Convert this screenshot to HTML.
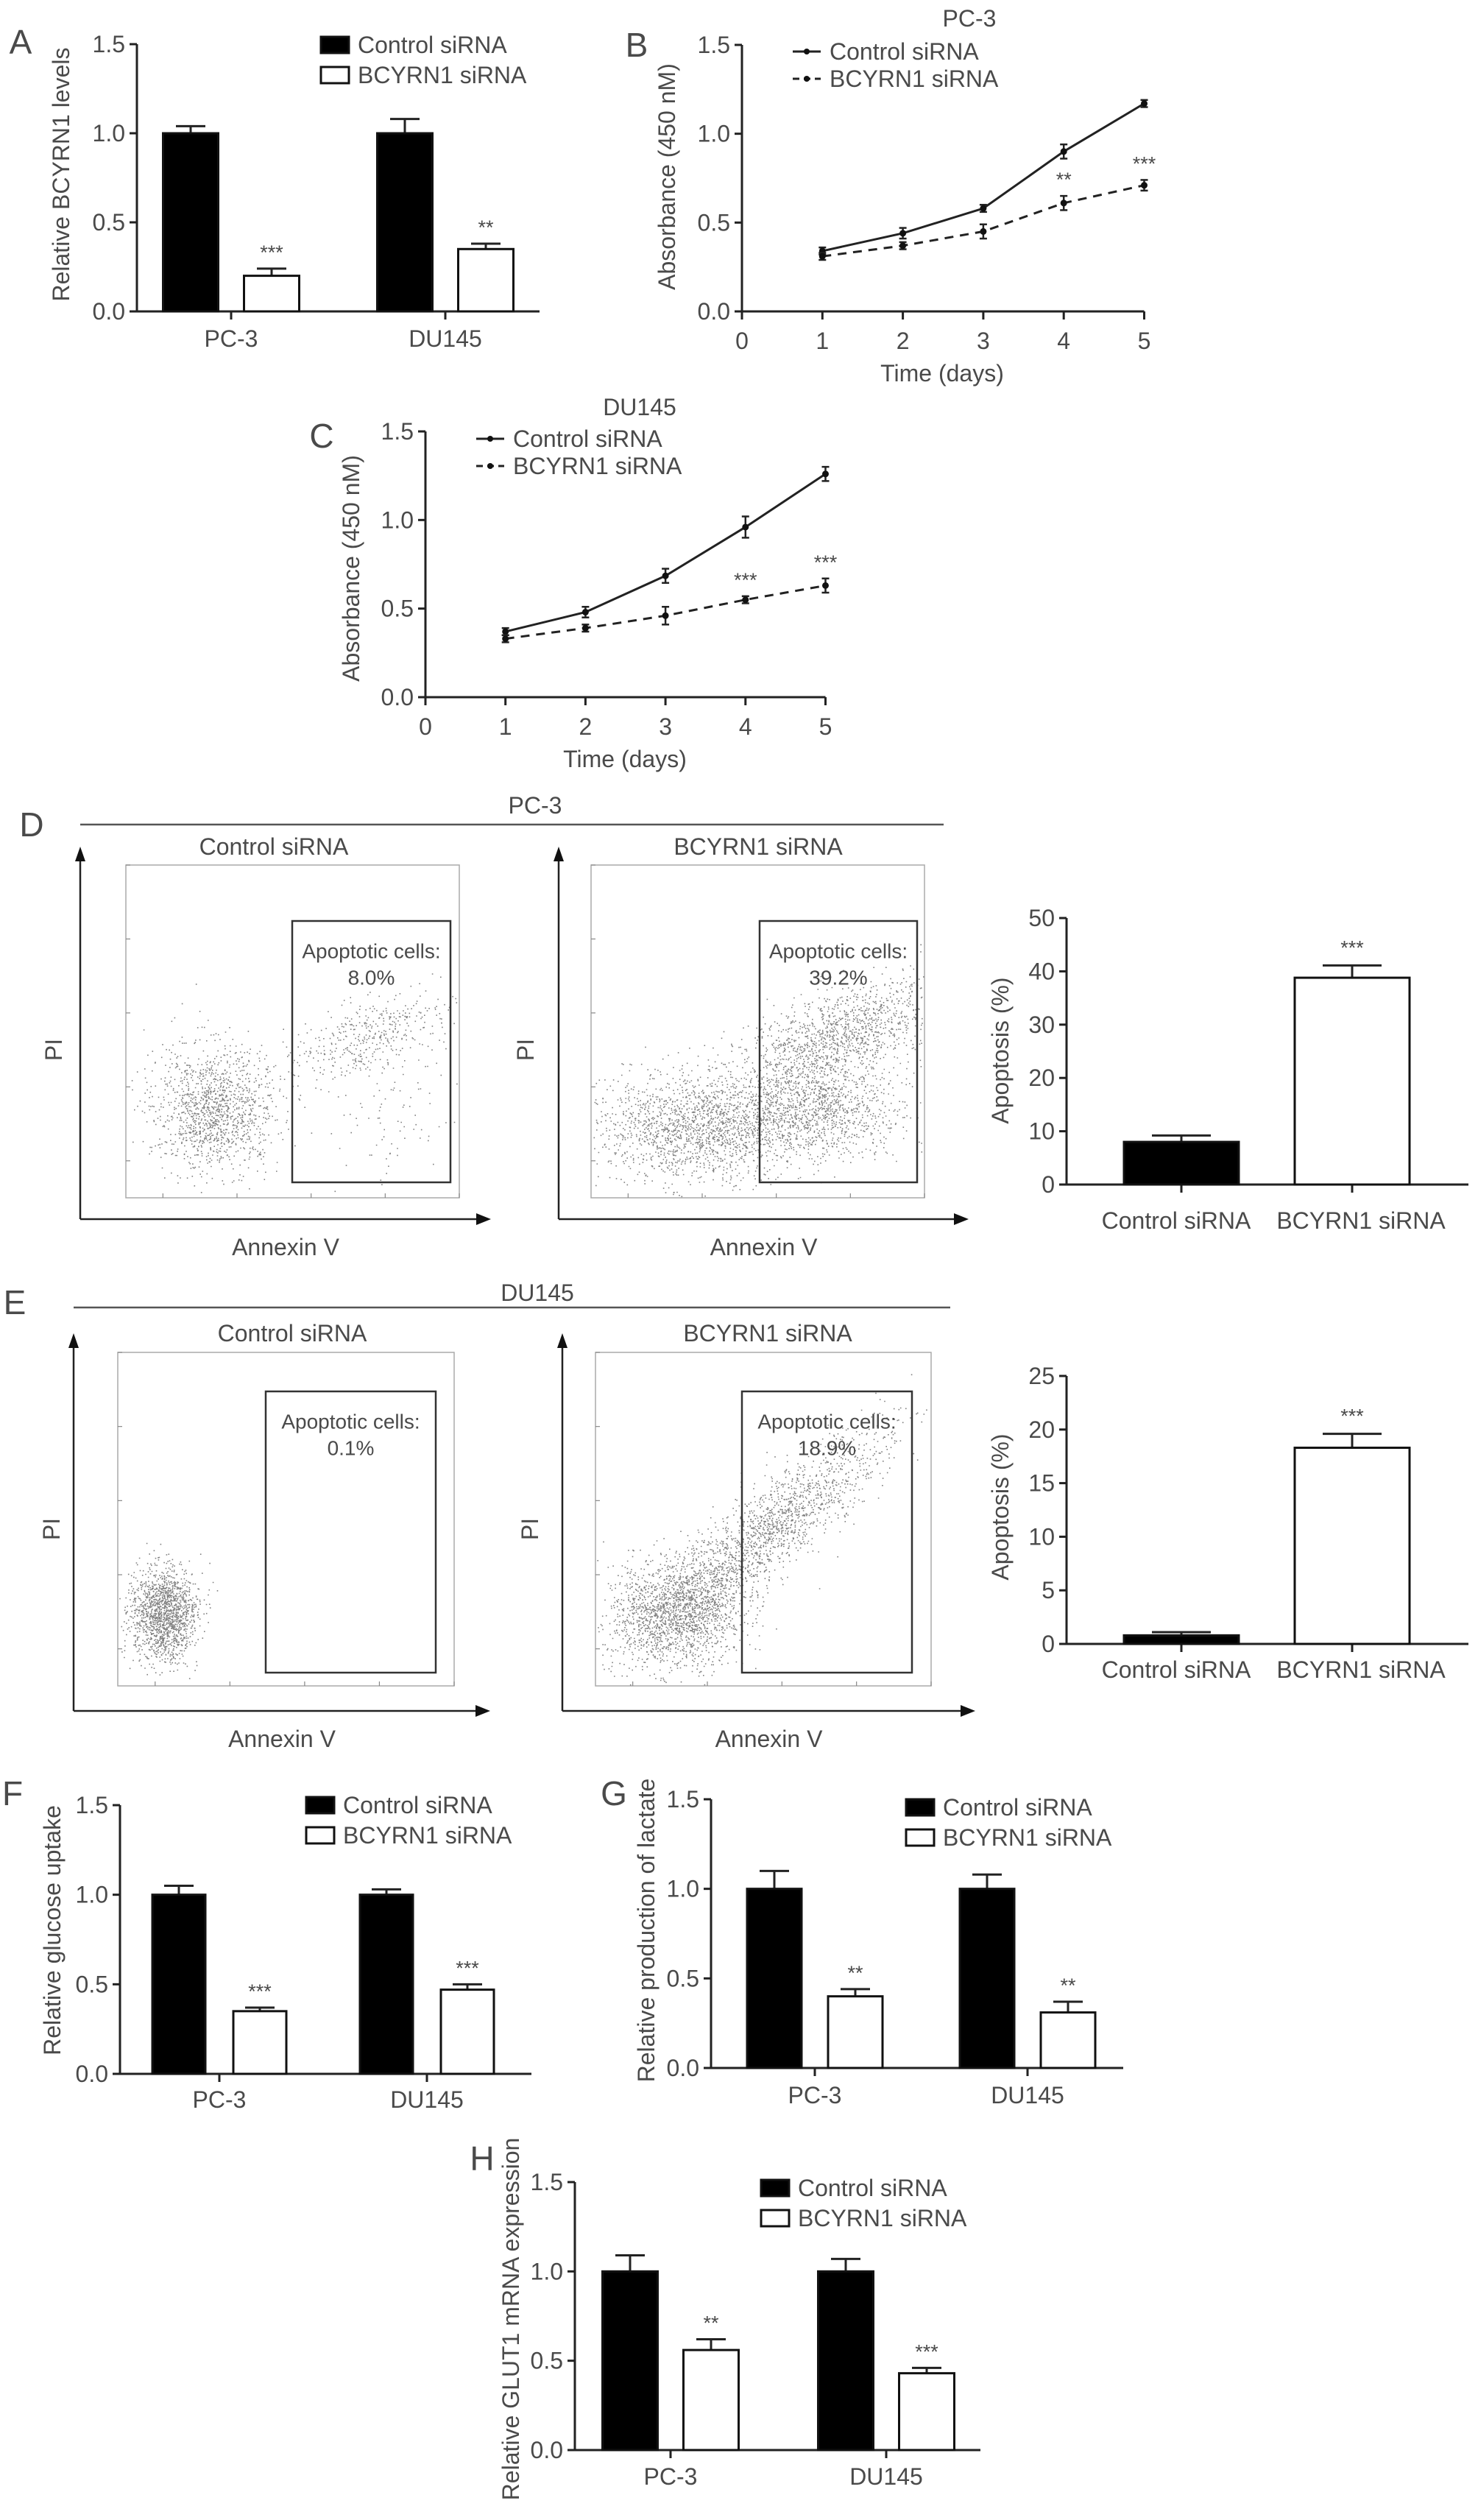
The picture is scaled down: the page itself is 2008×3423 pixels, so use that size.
<!DOCTYPE html>
<html><head><meta charset="utf-8"><title>BCYRN1 siRNA figure</title>
<style>
html,body{margin:0;padding:0;background:#fff;}
svg{display:block;font-family:"Liberation Sans",Arial,sans-serif;}
.t{fill:#4a4a4a;}
</style></head>
<body>
<svg id="fig" xmlns="http://www.w3.org/2000/svg" width="2008" height="3423" viewBox="0 0 2008 3423"></svg>
<script>
// ---------- Panel A data ----------
const aCategories = ['PC-3', 'DU145'];
const aControl = [1.0, 1.0];
const aControlErr = [0.04, 0.08];
const aSirna = [0.20, 0.35];
const aSirnaErr = [0.04, 0.03];
const aStars = ['***', '**'];
const barTicks15 = ['0.0', '0.5', '1.0', '1.5'];
const barTickVals15 = [0, 0.5, 1.0, 1.5];
// ---------- Panel B data (PC-3 growth) ----------
const days = [1, 2, 3, 4, 5];
const dayTicks = [0, 1, 2, 3, 4, 5];
const bControl = [0.34, 0.44, 0.58, 0.90, 1.17];
const bControlErr = [0.02, 0.03, 0.02, 0.04, 0.02];
const bSirna = [0.31, 0.37, 0.45, 0.61, 0.71];
const bSirnaErr = [0.02, 0.02, 0.04, 0.04, 0.03];
const bStars = ['', '', '', '**', '***'];
// ---------- Panel C data (DU145 growth) ----------
const cControl = [0.37, 0.48, 0.685, 0.96, 1.26];
const cControlErr = [0.02, 0.03, 0.04, 0.06, 0.04];
const cSirna = [0.33, 0.39, 0.46, 0.55, 0.63];
const cSirnaErr = [0.02, 0.02, 0.05, 0.02, 0.04];
const cStars = ['', '', '', '***', '***'];
// ---------- Panel D / E apoptosis ----------
const apopCategories = ['Control siRNA', 'BCYRN1 siRNA'];
const dApop = [8.0, 38.8];
const dApopErr = [1.2, 2.3];
const dStars = ['', '***'];
const dTicks = [0, 10, 20, 30, 40, 50];
const eApop = [0.8, 18.3];
const eApopErr = [0.3, 1.3];
const eStars = ['', '***'];
const eTicks = [0, 5, 10, 15, 20, 25];
const dGateLabels = ['8.0%', '39.2%'];
const eGateLabels = ['0.1%', '18.9%'];
// flow cytometry populations: [centerX, centerY, spreadX, spreadY, count, slope]
const dCtrlPops = [[290,1505,42,42,1300,0],[495,1410,55,26,420,-0.35],[540,1510,45,55,90,0]];
const dSiPops = [[950,1530,70,36,1800,0],[1115,1505,55,34,1100,0],[1140,1405,75,30,1300,-0.35]];
const eCtrlPops = [[222,2192,22,32,1500,0]];
const eSiPops = [[920,2190,45,36,1600,0],[1035,2085,85,32,1800,-0.75]];
// ---------- Panel F / G / H ----------
const fControl = [1.0, 1.0];
const fControlErr = [0.05, 0.03];
const fSirna = [0.35, 0.47];
const fSirnaErr = [0.02, 0.03];
const fStars = ['***', '***'];
const gControl = [1.0, 1.0];
const gControlErr = [0.10, 0.08];
const gSirna = [0.40, 0.31];
const gSirnaErr = [0.04, 0.06];
const gStars = ['**', '**'];
const hControl = [1.0, 1.0];
const hControlErr = [0.09, 0.07];
const hSirna = [0.56, 0.43];
const hSirnaErr = [0.06, 0.03];
const hStars = ['**', '***'];

const NS = 'http://www.w3.org/2000/svg';
const svg = document.getElementById('fig');
function el(tag, attrs, parent) {
  const e = document.createElementNS(NS, tag);
  for (const k in attrs) e.setAttribute(k, attrs[k]);
  (parent || svg).appendChild(e);
  return e;
}
function txt(s, x, y, size, anchor, parent, rot) {
  const t = el('text', {x: x, y: y, 'font-size': size, 'text-anchor': anchor || 'middle', 'dominant-baseline': 'central', class: 't'}, parent);
  if (rot) t.setAttribute('transform', 'rotate(-90 ' + x + ' ' + y + ')');
  t.textContent = s;
  return t;
}
function group(name) {
  const g = el('g', {});
  
  
  return g;
}
function line(x1, y1, x2, y2, w, parent, col, dash) {
  const l = el('line', {x1: x1, y1: y1, x2: x2, y2: y2, stroke: col || '#222', 'stroke-width': w || 3}, parent);
  if (dash) l.setAttribute('stroke-dasharray', dash);
  return l;
}

const TICK = 32, LEG = 32, YT = 32;

// ---------- bar chart (grouped, two series) ----------
function groupedBar(cfg) {
  const g = group(cfg.name);
  const ys = v => cfg.y0 - (v / cfg.ymax) * (cfg.y0 - cfg.yTop);
  txt(cfg.letter, cfg.letterX, cfg.letterY, 46, 'middle', g);
  line(cfg.ax, cfg.yTop, cfg.ax, cfg.y0, 3, g);
  line(cfg.ax - 10, cfg.y0, cfg.xEnd, cfg.y0, 3, g);
  barTickVals15.forEach((v, i) => {
    line(cfg.ax - 10, ys(v), cfg.ax, ys(v), 3, g);
    const t = txt(barTicks15[i], cfg.ax - 16, ys(v), TICK, 'end', g);
    
    
  });
  const yt = txt(cfg.ytitle, cfg.ytX, cfg.ytY, YT, 'middle', g, true);
  
  
  aCategories.forEach((c, i) => {
    const cx = cfg.tick0 + i * cfg.spacing;
    line(cx, cfg.y0, cx, cfg.y0 + 11, 3, g);
    const lb = txt(c, cx, cfg.labY, TICK, 'middle', g);
    
    
    const series = [[cfg.ctrl, cfg.ctrlErr, '#000', -cfg.off, ''], [cfg.si, cfg.siErr, '#fff', cfg.off, cfg.stars[i]]];
    series.forEach((s, j) => {
      const v = s[0][i], e = s[1][i];
      const bx = cx + s[3] - cfg.bw / 2;
      const bc = bx + cfg.bw / 2;
      line(bc, ys(v), bc, ys(v + e), 3, g);
      line(bc - 20, ys(v + e), bc + 20, ys(v + e), 3, g);
      const r = el('rect', {x: bx, y: ys(v), width: cfg.bw, height: cfg.y0 - ys(v), fill: s[2], stroke: '#111', 'stroke-width': 3}, g);
      
      
      if (s[4]) txt(s[4], bc, ys(v + e) - 22, 27, 'middle', g);
    });
  });
  const lg = el('g', {}, g);
  
  
  el('rect', {x: cfg.lx, y: cfg.ly - 11, width: 38, height: 22, fill: '#000', stroke: '#111', 'stroke-width': 3}, lg);
  el('rect', {x: cfg.lx, y: cfg.ly + 30, width: 38, height: 22, fill: '#fff', stroke: '#111', 'stroke-width': 3}, lg);
  txt('Control siRNA', cfg.lx + 50, cfg.ly, LEG, 'start', lg);
  txt('BCYRN1 siRNA', cfg.lx + 50, cfg.ly + 41, LEG, 'start', lg);
}

groupedBar({name: 'panel-a-bcyrn1-levels', letter: 'A', letterX: 28, letterY: 57, ax: 186, y0: 423, yTop: 60, ymax: 1.5, xEnd: 733,
  tick0: 314, spacing: 291, off: 55, bw: 75, labY: 460, ytitle: 'Relative BCYRN1 levels', ytX: 83, ytY: 237,
  ctrl: aControl, ctrlErr: aControlErr, si: aSirna, siErr: aSirnaErr, stars: aStars, lx: 436, ly: 61});
groupedBar({name: 'panel-f-glucose-uptake', letter: 'F', letterX: 17, letterY: 2436, ax: 163, y0: 2817, yTop: 2452, ymax: 1.5, xEnd: 722,
  tick0: 298, spacing: 282, off: 55, bw: 72, labY: 2852, ytitle: 'Relative glucose uptake', ytX: 71, ytY: 2622,
  ctrl: fControl, ctrlErr: fControlErr, si: fSirna, siErr: fSirnaErr, stars: fStars, lx: 416, ly: 2452});
groupedBar({name: 'panel-g-lactate', letter: 'G', letterX: 834, letterY: 2436, ax: 966, y0: 2809, yTop: 2444, ymax: 1.5, xEnd: 1526,
  tick0: 1107, spacing: 289, off: 55, bw: 74, labY: 2846, ytitle: 'Relative production of lactate', ytX: 878, ytY: 2622,
  ctrl: gControl, ctrlErr: gControlErr, si: gSirna, siErr: gSirnaErr, stars: gStars, lx: 1231, ly: 2455});
groupedBar({name: 'panel-h-glut1', letter: 'H', letterX: 655, letterY: 2932, ax: 781, y0: 3328, yTop: 2964, ymax: 1.5, xEnd: 1332,
  tick0: 911, spacing: 293, off: 55, bw: 75, labY: 3364, ytitle: 'Relative GLUT1 mRNA expression', ytX: 694, ytY: 3150,
  ctrl: hControl, ctrlErr: hControlErr, si: hSirna, siErr: hSirnaErr, stars: hStars, lx: 1034, ly: 2972});

// ---------- line charts ----------
function growth(cfg) {
  const g = group(cfg.name);
  const xs = d => cfg.ax + d * cfg.dx;
  const ys = v => cfg.y0 - (v / 1.5) * (cfg.y0 - cfg.yTop);
  txt(cfg.letter, cfg.letterX, cfg.letterY, 46, 'middle', g);
  txt(cfg.title, cfg.titleX, cfg.titleY, TICK, 'middle', g);
  line(cfg.ax, cfg.yTop, cfg.ax, cfg.y0, 3, g);
  line(cfg.ax - 10, cfg.y0, xs(5), cfg.y0, 3, g);
  barTickVals15.forEach((v, i) => {
    line(cfg.ax - 10, ys(v), cfg.ax, ys(v), 3, g);
    txt(barTicks15[i], cfg.ax - 16, ys(v), TICK, 'end', g);
  });
  dayTicks.forEach(d => {
    line(xs(d), cfg.y0, xs(d), cfg.y0 + 11, 3, g);
    txt(String(d), xs(d), cfg.y0 + 40, TICK, 'middle', g);
  });
  txt('Time (days)', cfg.timeX, cfg.y0 + 84, TICK, 'middle', g);
  const yt = txt('Absorbance (450 nM)', cfg.ytX, cfg.ytY, YT, 'middle', g, true);
  
  
  const series = [[cfg.ctrl, cfg.ctrlErr, '', 'line-control-siRNA'], [cfg.si, cfg.siErr, '12,9', 'line-bcyrn1-siRNA']];
  series.forEach(s => {
    const pts = days.map((d, i) => xs(d) + ',' + ys(s[0][i])).join(' ');
    const pl = el('polyline', {points: pts, fill: 'none', stroke: '#222', 'stroke-width': 3}, g);
    if (s[2]) pl.setAttribute('stroke-dasharray', s[2]);
    
    
    days.forEach((d, i) => {
      const x = xs(d), v = s[0][i], e = s[1][i];
      line(x, ys(v - e), x, ys(v + e), 2.5, g);
      line(x - 5, ys(v - e), x + 5, ys(v - e), 2.5, g);
      line(x - 5, ys(v + e), x + 5, ys(v + e), 2.5, g);
      const c = el('circle', {cx: x, cy: ys(v), r: 4.5, fill: '#111'}, g);
      
      
    });
  });
  days.forEach((d, i) => {
    if (cfg.stars[i]) txt(cfg.stars[i], xs(d), ys(cfg.si[i] + cfg.siErr[i]) - 22, 27, 'middle', g);
  });
  const lg = el('g', {}, g);
  
  
  line(cfg.lx, cfg.ly, cfg.lx + 38, cfg.ly, 3, lg);
  el('circle', {cx: cfg.lx + 19, cy: cfg.ly, r: 4, fill: '#111'}, lg);
  line(cfg.lx, cfg.ly + 37, cfg.lx + 38, cfg.ly + 37, 3, lg, '#222', '9,6');
  el('circle', {cx: cfg.lx + 19, cy: cfg.ly + 37, r: 4, fill: '#111'}, lg);
  txt('Control siRNA', cfg.lx + 50, cfg.ly, LEG, 'start', lg);
  txt('BCYRN1 siRNA', cfg.lx + 50, cfg.ly + 37, LEG, 'start', lg);
}
growth({name: 'panel-b-pc3-growth', letter: 'B', letterX: 865, letterY: 61, title: 'PC-3', titleX: 1317, titleY: 25,
  ax: 1008, dx: 109.3, y0: 423, yTop: 61, timeX: 1280, ytX: 906, ytY: 240,
  ctrl: bControl, ctrlErr: bControlErr, si: bSirna, siErr: bSirnaErr, stars: bStars, lx: 1077, ly: 70});
growth({name: 'panel-c-du145-growth', letter: 'C', letterX: 437, letterY: 592, title: 'DU145', titleX: 869, titleY: 553,
  ax: 578, dx: 108.7, y0: 947, yTop: 586, timeX: 849, ytX: 477, ytY: 772,
  ctrl: cControl, ctrlErr: cControlErr, si: cSirna, siErr: cSirnaErr, stars: cStars, lx: 647, ly: 596});

// ---------- apoptosis bar charts ----------
function apopBar(cfg) {
  const g = group(cfg.name);
  const ys = v => cfg.y0 - (v / cfg.ymax) * (cfg.y0 - cfg.yTop);
  line(cfg.ax, cfg.yTop, cfg.ax, cfg.y0, 3, g);
  line(cfg.ax - 10, cfg.y0, 1995, cfg.y0, 3, g);
  cfg.ticks.forEach(v => {
    line(cfg.ax - 10, ys(v), cfg.ax, ys(v), 3, g);
    txt(String(v), cfg.ax - 16, ys(v), TICK, 'end', g);
  });
  const yt = txt('Apoptosis (%)', 1359, cfg.ytY, YT, 'middle', g, true);
  
  
  const xs = [1605, 1837], fills = ['#000', '#fff'], labX = [1598, 1849];
  apopCategories.forEach((c, i) => {
    const v = cfg.vals[i], e = cfg.errs[i];
    line(xs[i], cfg.y0, xs[i], cfg.y0 + 11, 3, g);
    line(xs[i], ys(v), xs[i], ys(v + e), 3, g);
    line(xs[i] - 40, ys(v + e), xs[i] + 40, ys(v + e), 3, g);
    const r = el('rect', {x: xs[i] - 78, y: ys(v), width: 156, height: cfg.y0 - ys(v), fill: fills[i], stroke: '#111', 'stroke-width': 3}, g);
    
    
    txt(c, labX[i], cfg.labY, TICK, 'middle', g);
    if (cfg.stars[i]) txt(cfg.stars[i], xs[i], ys(v + e) - 24, 27, 'middle', g);
  });
}
apopBar({name: 'panel-d-apoptosis-bar', ax: 1449, y0: 1609, yTop: 1247, ymax: 50, ticks: dTicks, vals: dApop, errs: dApopErr, stars: dStars, labY: 1658, ytY: 1427});
apopBar({name: 'panel-e-apoptosis-bar', ax: 1449, y0: 2233, yTop: 1869, ymax: 25, ticks: eTicks, vals: eApop, errs: eApopErr, stars: eStars, labY: 2268, ytY: 2047});

// ---------- flow cytometry plots ----------
let seed = 12345;
function rnd() { seed = (seed * 1103515245 + 12345) % 2147483648; return seed / 2147483648; }
function gauss() { let u = rnd() || 1e-9, v = rnd(); return Math.sqrt(-2 * Math.log(u)) * Math.cos(2 * Math.PI * v); }
function flow(cfg) {
  const g = group(cfg.name);
  txt(cfg.title, cfg.titleX, cfg.top, TICK, 'middle', g);
  line(cfg.axX, cfg.bottom, cfg.axX, cfg.top + 18, 2.5, g);
  el('polygon', {points: (cfg.axX - 7) + ',' + (cfg.top + 20) + ' ' + cfg.axX + ',' + cfg.top + ' ' + (cfg.axX + 7) + ',' + (cfg.top + 20), fill: '#111'}, g);
  line(cfg.axX, cfg.bottom, cfg.right - 18, cfg.bottom, 2.5, g);
  el('polygon', {points: (cfg.right - 20) + ',' + (cfg.bottom - 8) + ' ' + cfg.right + ',' + cfg.bottom + ' ' + (cfg.right - 20) + ',' + (cfg.bottom + 8), fill: '#111'}, g);
  const pi = txt('PI', cfg.piX, cfg.piY, TICK, 'middle', g, true);
  
  
  const ax = txt('Annexin V', (cfg.axX + cfg.right) / 2, cfg.bottom + 38, TICK, 'middle', g);
  
  
  el('rect', {x: cfg.bx1, y: cfg.by1, width: cfg.bx2 - cfg.bx1, height: cfg.by2 - cfg.by1, fill: 'none', stroke: '#aaa', 'stroke-width': 1.5}, g);
  for (let k = 0; k < 5; k++) {
    const tx = cfg.bx1 + (k + 0.5) * (cfg.bx2 - cfg.bx1) / 4.5;
    line(tx, cfg.by2, tx, cfg.by2 - 6, 1.2, g, '#888');
    const ty = cfg.by2 - (k + 0.5) * (cfg.by2 - cfg.by1) / 4.5;
    line(cfg.bx1, ty, cfg.bx1 + 6, ty, 1.2, g, '#888');
  }
  let d = '';
  cfg.pops.forEach(p => {
    for (let n = 0; n < p[4]; n++) {
      const gx = gauss() * p[2], gy = gauss() * p[3];
      const x = p[0] + gx, y = p[1] + gy + gx * p[5];
      if (x < cfg.bx1 + 2 || x > cfg.bx2 - 2 || y < cfg.by1 + 2 || y > cfg.by2 - 2) continue;
      d += 'M' + x.toFixed(1) + ' ' + y.toFixed(1) + 'h1.6v1.6h-1.6z';
    }
  });
  const dots = el('path', {d: d, fill: '#808080'}, g);
  
  
  const gate = el('rect', {x: cfg.gx1, y: cfg.gy1, width: cfg.gx2 - cfg.gx1, height: cfg.gy2 - cfg.gy1, fill: 'none', stroke: '#333', 'stroke-width': 2.5}, g);
  
  
  const gc = (cfg.gx1 + cfg.gx2) / 2;
  txt('Apoptotic cells:', gc, cfg.gy1 + 41, 28, 'middle', g);
  txt(cfg.pct, gc, cfg.gy1 + 77, 28, 'middle', g);
}
const hd = group('panel-d-header');
txt('D', 43, 1120, 46, 'middle', hd);
line(109, 1120, 1282, 1120, 2.5, hd, '#555');
txt('PC-3', 727, 1094, TICK, 'middle', hd);
const he = group('panel-e-header');
txt('E', 20, 1769, 46, 'middle', he);
line(100, 1776, 1291, 1776, 2.5, he, '#555');
txt('DU145', 730, 1756, TICK, 'middle', he);

flow({name: 'flow-pc3-control', title: 'Control siRNA', titleX: 372, axX: 109, top: 1150, bottom: 1656, right: 667, piX: 73, piY: 1426,
  bx1: 171, bx2: 624, by1: 1175, by2: 1627, gx1: 397, gx2: 612, gy1: 1251, gy2: 1606, pct: dGateLabels[0], pops: dCtrlPops});
flow({name: 'flow-pc3-bcyrn1', title: 'BCYRN1 siRNA', titleX: 1030, axX: 759, top: 1150, bottom: 1656, right: 1316, piX: 714, piY: 1426,
  bx1: 803, bx2: 1256, by1: 1175, by2: 1627, gx1: 1032, gx2: 1246, gy1: 1251, gy2: 1606, pct: dGateLabels[1], pops: dSiPops});
flow({name: 'flow-du145-control', title: 'Control siRNA', titleX: 397, axX: 100, top: 1811, bottom: 2324, right: 666, piX: 70, piY: 2077,
  bx1: 160, bx2: 617, by1: 1837, by2: 2290, gx1: 361, gx2: 592, gy1: 1890, gy2: 2272, pct: eGateLabels[0], pops: eCtrlPops});
flow({name: 'flow-du145-bcyrn1', title: 'BCYRN1 siRNA', titleX: 1043, axX: 764, top: 1811, bottom: 2324, right: 1325, piX: 720, piY: 2077,
  bx1: 809, bx2: 1265, by1: 1837, by2: 2290, gx1: 1008, gx2: 1239, gy1: 1890, gy2: 2272, pct: eGateLabels[1], pops: eSiPops});
</script>
</body></html>
